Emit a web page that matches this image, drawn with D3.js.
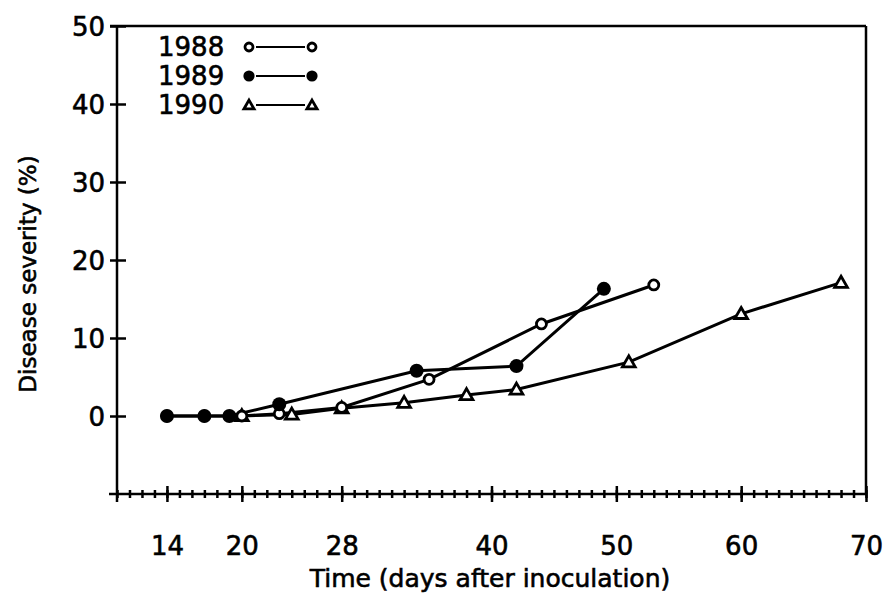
<!DOCTYPE html>
<html>
<head>
<meta charset="utf-8">
<script src="https://cdn.jsdelivr.net/npm/d3@7"></script>
<style>
  body {margin: 0; background: #fff;}
  svg {display: block; font-family: 'DejaVu Sans', sans-serif;}
  svg text {stroke: #000; stroke-width: 0.6px;}
</style>
</head>
<body>
<svg id="chart" width="886" height="594"></svg>
<script>
// values
const years = ['1988', '1989', '1990'];
const days1988 = [14, 17, 20, 23, 28, 35, 44, 53];
const sev1988 = [0, 0, 0, 0.3, 1.1, 4.7, 11.8, 16.8];
const days1989 = [14, 17, 19, 23, 34, 42, 49];
const sev1989 = [0, 0, 0, 1.5, 5.8, 6.4, 16.3];
const days1990 = [20, 24, 28, 33, 38, 42, 51, 60, 68];
const sev1990 = [0, 0.2, 1.0, 1.7, 2.7, 3.4, 6.9, 13.1, 17.1];
const xTicks = [14, 20, 28, 40, 50, 60, 70];
const yTicks = [0, 10, 20, 30, 40, 50];

const svg = d3.select('#chart');

const x = d3.scaleLinear().domain([10, 70]).range([117, 866]);
const y = d3.scaleLinear().domain([-10, 50]).range([494, 26]);

const axisG = svg.append('g')
    .attr('stroke', '#000')
    .attr('stroke-width', 2.5)
    .attr('fill', 'none');

// axis lines + frame
axisG.append('line')
    .attr('x1', x(10)).attr('x2', x(10))
    .attr('y1', y(50)).attr('y2', y(-10) + 8);
axisG.append('line')
    .attr('x1', x(10) - 8).attr('x2', x(70))
    .attr('y1', y(-10)).attr('y2', y(-10));
axisG.append('line')
    .attr('x1', x(10) - 7).attr('x2', x(70))
    .attr('y1', y(50)).attr('y2', y(50));
axisG.append('line')
    .attr('x1', x(70)).attr('x2', x(70))
    .attr('y1', y(50)).attr('y2', y(-10));

// minor x ticks every day
const xMinor = svg.append('g')
    .attr('transform', 'translate(0,' + y(-10) + ')')
    .call(d3.axisBottom(x).tickValues(d3.range(10, 71)).tickFormat(''));
xMinor.select('.domain').remove();
xMinor.selectAll('line')
    .attr('y1', -4).attr('y2', 4)
    .attr('stroke-width', 2.5);

const xMajor = svg.append('g')
    .attr('transform', 'translate(0,' + y(-10) + ')')
    .call(d3.axisBottom(x).tickValues(xTicks));
xMajor.select('.domain').remove();
xMajor.selectAll('line')
    .attr('y1', -8).attr('y2', 8)
    .attr('stroke-width', 2.5);
xMajor.selectAll('text')
    .attr('y', 52)
    .attr('dy', '0.35em')
    .attr('font-size', 26)
    .attr('font-family', 'DejaVu Sans')
    .attr('fill', '#000');

const yAxis = svg.append('g')
    .attr('transform', 'translate(' + x(10) + ',0)')
    .call(d3.axisLeft(y).tickValues(yTicks));
yAxis.select('.domain').remove();
yAxis.selectAll('line')
    .attr('x1', -7).attr('x2', 9)
    .attr('stroke-width', 2.5);
yAxis.selectAll('text')
    .attr('x', -12)
    .attr('dy', '0.36em')
    .attr('font-size', 26)
    .attr('font-family', 'DejaVu Sans')
    .attr('fill', '#000');

svg.append('text')
    .attr('x', 490)
    .attr('y', 578)
    .attr('text-anchor', 'middle')
    .attr('dy', '0.35em')
    .attr('font-size', 25)
    .text('Time (days after inoculation)');

svg.append('text')
    .attr('transform', 'translate(28,274) rotate(-90)')
    .attr('text-anchor', 'middle')
    .attr('dy', '0.35em')
    .attr('font-size', 23)
    .text('Disease severity (%)');

const line = d3.line()
    .x((d) => x(d[0]))
    .y((d) => y(d[1]));

const series = [
  {name: years[0], pts: d3.zip(days1988, sev1988), mark: 'open'},
  {name: years[1], pts: d3.zip(days1989, sev1989), mark: 'filled'},
  {name: years[2], pts: d3.zip(days1990, sev1990), mark: 'tri'},
];

const plot = svg.append('g');

plot.selectAll('path.series')
    .data(series)
    .enter()
    .append('path')
    .attr('class', 'series')
    .attr('d', (d) => line(d.pts))
    .attr('fill', 'none')
    .attr('stroke', '#000')
    .attr('stroke-width', 3);

const tri = d3.symbol().type(d3.symbolTriangle);

function drawMark(g, kind, scale) {
  if (kind === 'open') {
    g.append('circle')
        .attr('r', 5 * scale)
        .attr('fill', '#fff')
        .attr('stroke', '#000')
        .attr('stroke-width', 2.8);
  } else if (kind === 'filled') {
    g.append('circle')
        .attr('r', 7 * scale)
        .attr('fill', '#000');
  } else {
    g.append('path')
        .attr('d', tri.size(70 * scale * scale)())
        .attr('transform', 'translate(0,1)')
        .attr('fill', '#fff')
        .attr('stroke', '#000')
        .attr('stroke-width', 2.8);
  }
}

// triangles first so circles sit on top
[series[2], series[0], series[1]].forEach((s) => {
  plot.selectAll(null)
      .data(s.pts)
      .enter()
      .append('g')
      .attr('transform', (d) => 'translate(' + x(d[0]) + ',' + y(d[1]) + ')')
      .each(function() {
        drawMark(d3.select(this), s.mark, 1);
      });
});

// legend
const legend = svg.append('g');
series.forEach((s, i) => {
  const row = legend.append('g')
      .attr('transform', 'translate(0,' + (47 + i * 29) + ')');
  row.append('text')
      .attr('x', 158)
      .attr('dy', '0.36em')
      .attr('font-size', 26)
      .text(s.name);
  row.append('line')
      .attr('x1', 256).attr('x2', 305)
      .attr('stroke', '#000')
      .attr('stroke-width', 2);
  [249, 312].forEach((mx) => {
    const m = row.append('g').attr('transform', 'translate(' + mx + ',0)');
    drawMark(m, s.mark, 0.8);
  });
});
</script>
</body>
</html>
